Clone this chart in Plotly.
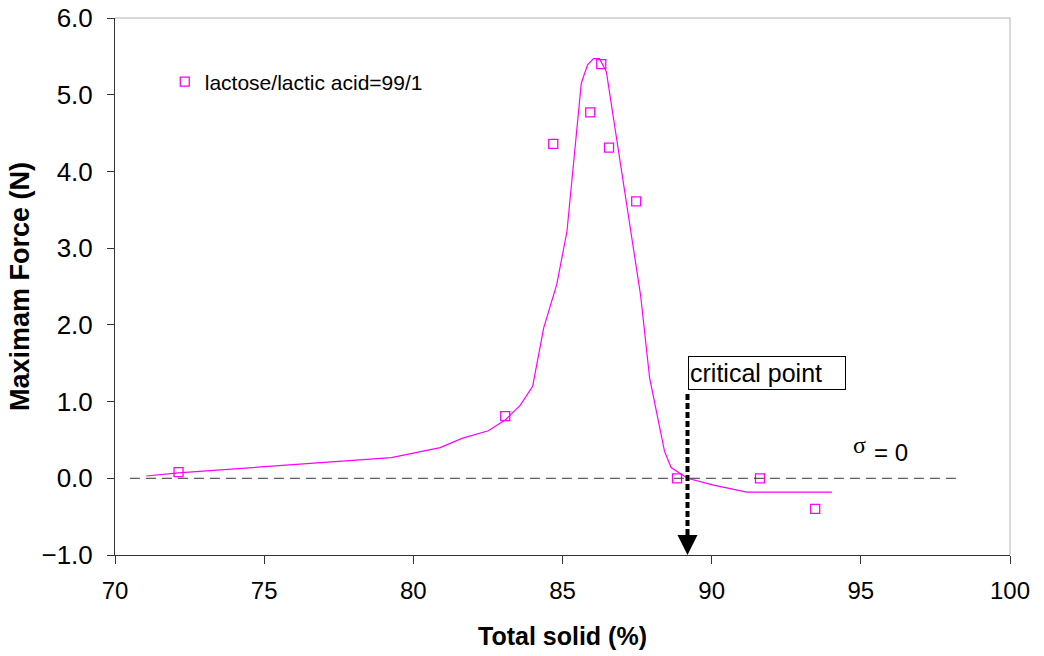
import plotly.graph_objects as go

# measured data (markers)
ts_points = [72.13, 83.08, 84.69, 85.93, 86.30, 86.56, 87.47, 88.84, 91.62, 93.47]
force_points = [0.08, 0.81, 4.36, 4.77, 5.40, 4.31, 3.61, 0.00, 0.00, -0.40]

# fitted curve
ts_curve = [71.05, 72.12, 79.26, 80.90, 81.63, 82.51, 83.08, 83.58, 84.00, 84.37,
            84.81, 85.15, 85.63, 85.84, 86.04, 86.24, 86.47, 87.62, 87.92, 88.42,
            88.64, 89.19, 90.06, 91.18, 94.03]
force_curve = [0.03, 0.07, 0.27, 0.40, 0.52, 0.62, 0.76, 0.95, 1.20, 1.96,
               2.53, 3.22, 5.15, 5.39, 5.47, 5.47, 5.30, 2.38, 1.31, 0.35,
               0.14, 0.00, -0.09, -0.18, -0.18]

critical_ts = 89.19
series_name = "lactose/lactic acid=99/1"
x_ticks = [70, 75, 80, 85, 90, 95, 100]
y_ticks = [-1, 0, 1, 2, 3, 4, 5, 6]

MAG = "#FF00FF"
fig = go.Figure()
fig.add_trace(go.Scatter(x=ts_curve, y=force_curve, mode="lines",
                         line=dict(color=MAG, width=1.2), showlegend=False,
                         hoverinfo="skip"))
fig.add_trace(go.Scatter(x=ts_points, y=force_points, mode="markers",
                         name=series_name,
                         marker=dict(symbol="square-open", size=9, color=MAG,
                                     line=dict(width=1.3, color=MAG))))

font = "Arial, Liberation Sans, sans-serif"

# zero stress dashed line
fig.add_shape(type="line", xref="x", yref="y", x0=70.5, x1=98.3, y0=0, y1=0,
              line=dict(color="#333333", width=1, dash="10px,6px"))
# critical point dashed arrow
fig.add_shape(type="line", xref="x", yref="y", x0=critical_ts, x1=critical_ts,
              y0=1.1, y1=-0.86, line=dict(color="black", width=4, dash="6px,3px"))
fig.add_annotation(x=critical_ts, y=-1.0, xref="x", yref="y", ax=0, ay=-16,
                   axref="pixel", ayref="pixel", text="", showarrow=True,
                   arrowhead=2, arrowsize=1, arrowwidth=4, arrowcolor="black",
                   standoff=0)
fig.add_annotation(x=critical_ts, y=1.15, xref="x", yref="y", text="critical point",
                   showarrow=False, xanchor="left", yanchor="bottom",
                   align="left", width=154, height=30, borderpad=1,
                   bordercolor="black", borderwidth=1, bgcolor="white",
                   font=dict(family=font, size=25, color="black"))
fig.add_annotation(x=94.96, y=0.44, xref="x", yref="y", text="σ", showarrow=False,
                   font=dict(family="Liberation Serif, Times New Roman, serif", size=24, color="black"))
fig.add_annotation(x=96.0, y=0.33, xref="x", yref="y", text="= 0", showarrow=False,
                   font=dict(family=font, size=24, color="black"))

# light top / right frame
fig.add_shape(type="line", xref="paper", yref="paper", x0=0, x1=1, y0=1, y1=1,
              line=dict(color="#b0b0b0", width=1))
fig.add_shape(type="line", xref="paper", yref="paper", x0=1, x1=1, y0=0, y1=1,
              line=dict(color="#b0b0b0", width=1))

fig.update_layout(
    width=1044, height=656,
    margin=dict(l=115, r=34, t=18, b=101, autoexpand=False),
    paper_bgcolor="white", plot_bgcolor="white",
    font=dict(family=font, size=24, color="black"),
    showlegend=True,
    legend=dict(x=0.0556, y=0.881, xanchor="left", yanchor="middle",
                bgcolor="rgba(0,0,0,0)", font=dict(size=21), itemwidth=30),
    xaxis=dict(range=[70, 100], tickvals=x_ticks, ticks="outside", ticklen=8,
               tickcolor="#333", showline=True, linecolor="#333", linewidth=1,
               showgrid=False, zeroline=False, automargin=False,
               ticklabelstandoff=6, tickfont=dict(size=24),
               title=dict(text="<b>Total solid (%)</b>", standoff=24,
                          font=dict(size=25))),
    yaxis=dict(range=[-1, 6], tickvals=y_ticks, tickformat=".1f", ticks="outside",
               ticklen=7, tickcolor="#333", showline=True, linecolor="#333",
               linewidth=1, showgrid=False, zeroline=False, automargin=False,
               ticklabelstandoff=9, tickfont=dict(size=26),
               title=dict(text="<b>Maximam Force (N)</b>", standoff=4,
                          font=dict(size=27))),
)

fig.write_html("out.html")
